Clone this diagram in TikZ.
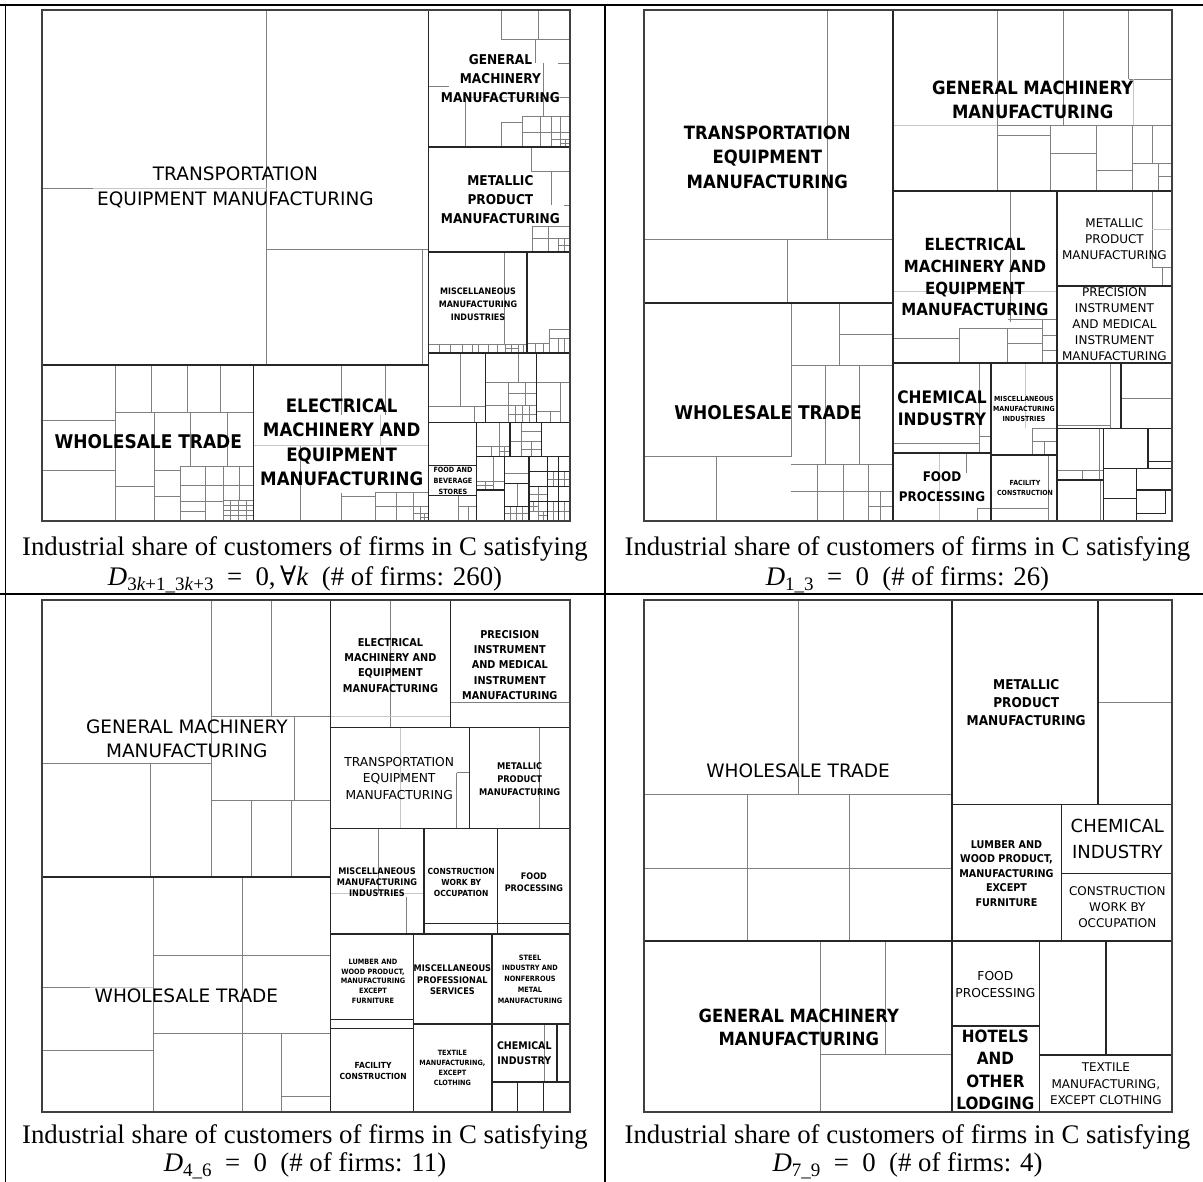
\documentclass[tikz,border=0pt]{standalone}
\usepackage{fontspec}
\setmainfont{Liberation Serif}
\newfontfamily\lblfont{DejaVu Sans}[BoldFeatures={FakeStretch=0.9}]
\newfontfamily\forallfont{DejaVu Serif}
\newcommand{\lfz}[2]{\fontsize{#1}{#2}\selectfont}
\newcommand{\capsub}[1]{\raisebox{-5pt}{\lfz{19}{20}#1}}
\tikzset{
  blk/.style={line width=1.6pt, draw=black!85},
  mid/.style={line width=1.2pt, draw=black!85},
  sub/.style={line width=0.8pt, draw=black!50},
  faint/.style={line width=0.8pt, draw=black!22},
  frame/.style={line width=2pt, draw=black!75},
  rule/.style={line width=1.3pt, draw=black},
  stub/.style={line width=2.6pt, draw=black},
  lb/.style 2 args={align=center, inner sep=0pt, font=\lblfont\bfseries\lfz{#1}{#2}},
  lm/.style 2 args={align=center, inner sep=0pt, font=\lblfont\lfz{#1}{#2}},
  captxt/.style={inner sep=0pt, anchor=base, font=\lfz{26.8}{30}},
}
% small cell split in four
\newcommand{\qbox}[4]{%
  \draw[sub] (#1,#2) rectangle (#3,#4)
    ({(#1+#3)/2},#2) -- ({(#1+#3)/2},#4)
    (#1,{(#2+#4)/2}) -- (#3,{(#2+#4)/2});}

\begin{document}
\begin{tikzpicture}[x=1pt,y=-1pt]
  \useasboundingbox (0,0) rectangle (1203,1182);
  \fill[white] (0,0) rectangle (1203,1182);

  % table rules
  \draw[rule] (0,5) -- (1203,5);
  \draw[rule] (0,594) -- (1203,594);
  \draw[rule] (5.5,5) -- (5.5,1182);
  \draw[rule] (605,5) -- (605,1182);
  \draw[stub] (0,5) -- (22,5) (589,5) -- (622,5) (1185,5) -- (1203,5);
  \draw[stub] (0,594) -- (22,594) (589,594) -- (622,594) (1185,594) -- (1203,594);

  %%%%%%%%%%%%%%%% panel 1
  % transportation
  \draw[sub] (266.7,10) -- (266.7,365) (266.7,249) -- (428.6,249) (422,249) -- (422,365) (42,188) -- (93,188);
  \draw[faint] (93,188) -- (266.7,188);
  % general machinery
  \draw[sub] (501.7,10) -- (501.7,39) -- (570,39) (538,10) -- (538,39) (535,39) -- (535,63) (558,63) -- (570,63);
  \draw[sub] (543,63) -- (543,116) (428.6,86) -- (449,86) (465,97) -- (465,147) (560,97) -- (570,97);
  \draw[faint] (465,97) -- (560,97);
  \draw[sub] (501,122) -- (501,147) (501,122) -- (522,122) (522,116) -- (522,147) (522,116) -- (570,116);
  \draw[sub] (540,116) -- (540,147) (551,116) -- (551,132) (560.7,116) -- (560.7,132) (522,132) -- (570,132);
  \qbox{551}{132}{570}{147}
  \qbox{560.5}{139.5}{570}{147}
  % metallic
  \draw[sub] (531,147) -- (531,171.7) -- (570,171.7) (551,171.7) -- (551,205) (564,205) -- (570,205);
  \draw[sub] (532,226.7) -- (570,226.7) (532,226.7) -- (532,252) (548.3,226.7) -- (548.3,252) (532,238) -- (570,238);
  \qbox{558.3}{238}{570}{252}
  % miscellaneous
  \draw[sub] (504,252) -- (504,344) (428.6,344) -- (527,344);
  \draw[sub] (439,344) -- (439,352.7) (450,344) -- (450,352.7) (462,344) -- (462,352.7) (472,344) -- (472,352.7)
    (478,344) -- (478,352.7) (488,344) -- (488,352.7) (497,344) -- (497,352.7) (523,344) -- (523,352.7);
  \qbox{505}{344}{518}{352.7}
  \draw[sub] (527,343) -- (549,343) (535.8,343) -- (535.8,352.7) (543.5,343) -- (543.5,352.7);
  \draw[sub] (549,329) -- (549,352.7) (549,329) -- (570,329) (549,338) -- (570,338)
    (558.7,338) -- (558.7,352.7) (564.5,338) -- (564.5,352.7);
  % wholesale
  \draw[sub] (115,365) -- (115,520.5) (42,420) -- (115,420) (42,470.7) -- (115,470.7);
  \draw[sub] (151.7,365) -- (151.7,412.3) (187,365) -- (187,412.3) (220,365) -- (220,412.3) (115,412.3) -- (253.5,412.3);
  \draw[sub] (154,412.3) -- (154,520.5) (115,486) -- (154,486) (190.7,412.3) -- (190.7,466.7) (227.3,412.3) -- (227.3,466.7);
  \draw[sub] (154,470) -- (180,470) (154,496) -- (180,496) (180,466.7) -- (180,520.5) (180,466.7) -- (253.5,466.7);
  \draw[sub] (205.7,466.7) -- (205.7,520.5) (223.3,466.7) -- (223.3,520.5) (239,466.7) -- (239,500)
    (180,485) -- (253.5,485) (180,501.7) -- (223.3,501.7) (180,511.7) -- (205.7,511.7);
  \qbox{223.3}{500}{238.4}{510.3}
  \qbox{238.4}{500}{253.5}{510.3}
  \qbox{223.3}{510.3}{238.4}{520.5}
  \qbox{238.4}{510.3}{253.5}{520.5}
  % electrical
  \draw[sub] (341,365) -- (341,415) (385,365) -- (385,415);
  \draw[faint] (253.5,445) -- (428.6,445) (380,415) -- (380,445);
  \draw[sub] (300,446) -- (300,520.5) (341,493) -- (341,520.5) (341,496) -- (375,496) (375,492.7) -- (375,520.5)
    (375,492.7) -- (428.6,492.7) (396.7,492.7) -- (396.7,520.5) (413,492.7) -- (413,520.5) (375,506.7) -- (413,506.7);
  \qbox{413}{506.7}{428.6}{520.5}
  \qbox{420.8}{513.6}{428.6}{520.5}
  % small industries, lower right
  \draw[sub] (460.7,353.3) -- (460.7,406.7) (428.6,406.7) -- (485.7,406.7) (474,406.7) -- (474,422.3);
  \draw[sub] (518,353.3) -- (518,382.7) (485.7,382.7) -- (536.7,382.7) (508,382.7) -- (508,422.3)
    (485.7,405.7) -- (508,405.7) (525.7,382.7) -- (525.7,405.7) (508,393) -- (536.7,393);
  \qbox{508}{405.7}{522.3}{422.3}
  \qbox{522.3}{405.7}{536.7}{422.3}
  \draw[sub] (536.7,382.7) -- (570,382.7) (560,382.7) -- (560,422.3) (536.7,411.7) -- (560,411.7) (550,411.7) -- (550,422.3);
  \draw[sub] (499,422.3) -- (499,446) (476.7,446) -- (510,446) (491.7,446) -- (491.7,456.7);
  \qbox{499}{446}{510}{456.7}
  \draw[sub] (521.7,422.3) -- (521.7,456.7) (510,441.7) -- (541.7,441.7) (521.7,431.7) -- (541.7,431.7);
  \qbox{521.7}{441.7}{541.7}{456.7}
  \draw[sub] (493.3,456.7) -- (493.3,481.7) (476.7,481.7) -- (504.3,481.7) (504.3,473.3) -- (529,473.3) (517.7,483.7) -- (517.7,506.7);
  \qbox{476.7}{481.7}{493.3}{490}
  \qbox{504.3}{506.7}{516.6}{520.5}
  \qbox{516.6}{506.7}{529}{520.5}
  \draw[sub] (458,495.7) -- (458,520.5) (458,506.7) -- (476.7,506.7) (468,506.7) -- (468,520.5);
  \qbox{529}{486.7}{547.7}{501.7}
  \qbox{547.7}{501.7}{558.3}{520.5}
  \qbox{558.3}{501.7}{570}{520.5}
  \qbox{558.3}{471.7}{570}{486.7}
  \qbox{529}{501.7}{538.3}{511}
  \qbox{538.3}{511}{547.7}{520.5}
  \qbox{547.7}{471.7}{558.3}{486.7}
  % block borders
  \draw[blk] (428.6,10) -- (428.6,520.5) (428.6,147) -- (570,147) (428.6,252) -- (570,252) (527,252) -- (527,353.3) (428.6,353.3) -- (570,353.3);
  \draw[blk] (42,365) -- (428.6,365) (253.5,365) -- (253.5,520.5);
  \draw[mid] (485.7,353.3) -- (485.7,422.3) (536.7,353.3) -- (536.7,422.3) (428.6,422.3) -- (570,422.3);
  \draw[mid] (476.7,422.3) -- (476.7,520.5) (428.6,465.5) -- (476.7,465.5) (428.6,495.7) -- (476.7,495.7);
  \draw[mid] (476.7,456.7) -- (570,456.7) (510,422.3) -- (510,456.7) (541.7,422.3) -- (541.7,456.7);
  \draw[mid] (504.3,456.7) -- (504.3,520.5) (476.7,490) -- (504.3,490) (529,456.7) -- (529,520.5) (504.3,483.7) -- (529,483.7) (504.3,506.7) -- (529,506.7);
  \draw[mid] (547.7,456.7) -- (547.7,520.5) (558.3,456.7) -- (558.3,520.5) (529,471.7) -- (570,471.7) (529,486.7) -- (570,486.7) (529,501.7) -- (570,501.7);
  \draw[frame] (42,10) rectangle (570,520.5);
  % labels
  \node[lm={18.5}{25}] (p1trans) at (235.5,187.5) {TRANSPORTATION\\EQUIPMENT MANUFACTURING};
  \node[lb={13.5}{19}] (p1gen) at (500.4,78.5) {GENERAL\\MACHINERY\\MANUFACTURING};
  \node[lb={13.5}{19}] (p1met) at (500.4,200) {METALLIC\\PRODUCT\\MANUFACTURING};
  \node[lb={8.9}{13}] (p1misc) at (478,304) {MISCELLANEOUS\\MANUFACTURING\\INDUSTRIES};
  \node[lb={18.9}{20}] (p1whole) at (148.3,441.7) {WHOLESALE TRADE};
  \node[lb={18.5}{24.5}] (p1elec) at (341.7,442.4) {ELECTRICAL\\MACHINERY AND\\EQUIPMENT\\MANUFACTURING};
  \node[lb={7.2}{11}] (p1food) at (453,481) {FOOD AND\\BEVERAGE\\STORES};
  \node[captxt] (c1a) at (305,555) {Industrial share of customers of firms in C satisfying};
  \node[captxt] (c1b) at (305,585) {\textit{D}\capsub{3\textit{k}+1\_3\textit{k}+3}\enspace=\enspace0,\,{\forallfont ∀}\textit{k}\ \ (\# of firms: 260)};

  %%%%%%%%%%%%%%%% panel 2
  % transportation
  \draw[sub] (827.7,10) -- (827.7,239.3) (644,239.3) -- (893,239.3) (787.7,239.3) -- (787.7,303.3);
  % general machinery
  \draw[sub] (997,10) -- (997,191) (1063.5,10) -- (1063.5,125) (1128.8,10) -- (1128.8,79.3) (1128.8,79.3) -- (1172,79.3);
  \draw[faint] (1133.8,79.3) -- (1133.8,125) (893,125) -- (997,125);
  \draw[sub] (997,125) -- (1172,125) (997,135) -- (1050.8,135) (1050.8,125) -- (1050.8,191) (1050.8,153.3) -- (1096,153.3)
    (1096,125) -- (1096,191) (1132.7,125) -- (1132.7,191) (1096,170) -- (1132.7,170) (1152,125) -- (1152,163.3)
    (1132.7,163.3) -- (1172,163.3) (1158.5,163.3) -- (1158.5,191) (1158.5,176) -- (1172,176);
  % electrical
  \draw[sub] (1010.8,191) -- (1010.8,321.7) (1007.7,319.3) -- (1057,319.3);
  \draw[faint] (893,291.7) -- (1057,291.7);
  \draw[sub] (959.6,328.3) -- (1042,328.3) (959.6,328.3) -- (959.6,363.3) (893,338.3) -- (959.6,338.3) (1042,319.3) -- (1042,363.3)
    (1042,335) -- (1057,335) (1042,350) -- (1057,350) (1007.7,328.3) -- (1007.7,363.3) (1007.7,343) -- (1042,343);
  % metallic
  \draw[sub] (1152,191.7) -- (1152,267) (1152,267) -- (1172,267) (1162,267) -- (1162,286);
  \draw[faint] (1152,229) -- (1172,229);
  % wholesale
  \draw[sub] (791,303.3) -- (791,456.7) (644,456.7) -- (791,456.7) (716.8,456.7) -- (716.8,520.7) (839,303.3) -- (839,365)
    (839,334.3) -- (893,334.3) (791,365) -- (893,365) (825,365) -- (825,464) (859,365) -- (859,464) (791,464) -- (893,464)
    (817.5,464) -- (817.5,520.7) (843.8,464) -- (843.8,520.7) (868.7,464) -- (868.7,520.7) (791,491.7) -- (893,491.7)
    (880.8,491.7) -- (880.8,520.7) (868.7,506.2) -- (893,506.2);
  % chemical, miscellaneous, food, facility
  \draw[sub] (979,363.3) -- (979,452.7) (893,443) -- (979,443) (979,436.7) -- (991,436.7);
  \draw[faint] (1025,363.3) -- (1025,428) (939.7,452.7) -- (939.7,520.7);
  \draw[sub] (1032,428) -- (1032,455) (1032,428) -- (1057,428) (1032,441.7) -- (1057,441.7) (1044.4,441.7) -- (1044.4,455);
  \draw[sub] (966,452.7) -- (966,473) (977,508) -- (977,520.7) (977,508) -- (991,508);
  \draw[sub] (1048,455) -- (1048,520.7) (991,508) -- (1048,508);
  % small cells
  \draw[sub] (1110,363.3) -- (1110,428.3) (1057,425) -- (1110,425) (1121,398) -- (1172,398) (1057,470) -- (1103.5,470)
    (1099,428.3) -- (1099,480) (1082,470) -- (1082,480) (1100,480) -- (1100,520.7);
  % block borders
  \draw[blk] (893,10) -- (893,520.7) (644,303.3) -- (893,303.3) (893,191) -- (1172,191) (1057,191) -- (1057,520.7)
    (1057,286) -- (1172,286) (893,363.3) -- (1172,363.3);
  \draw[blk] (991,363.3) -- (991,520.7) (893,452.7) -- (991,452.7) (991,455) -- (1057,455);
  \draw[mid] (1121,363.3) -- (1121,428.3) (1057,428.3) -- (1172,428.3) (1103.5,428.3) -- (1103.5,520.7) (1057,480) -- (1103.5,480)
    (1148,428.3) -- (1148,468.3) (1148,461.7) -- (1172,461.7) (1103.5,468.3) -- (1172,468.3) (1136.6,468.3) -- (1136.6,520.7)
    (1103.5,498.3) -- (1136.6,498.3) (1136.6,490) -- (1172,490) (1165.6,490) -- (1165.6,513.3) (1136.6,513.3) -- (1165.6,513.3);
  \draw[frame] (644,10) rectangle (1172,520.7);
  % labels
  \node[lb={18.3}{24.5}] (p2trans) at (767.3,157) {TRANSPORTATION\\EQUIPMENT\\MANUFACTURING};
  \node[lb={18.3}{24}] (p2gen) at (1032.7,100.3) {GENERAL MACHINERY\\MANUFACTURING};
  \node[lb={16.7}{21.7}] (p2elec) at (975,277.3) {ELECTRICAL\\MACHINERY AND\\EQUIPMENT\\MANUFACTURING};
  \node[lm={12}{16.3}] (p2met) at (1114.4,239) {METALLIC\\PRODUCT\\MANUFACTURING};
  \node[lm={12}{16}] (p2prec) at (1114.4,324.5) {PRECISION\\INSTRUMENT\\AND MEDICAL\\INSTRUMENT\\MANUFACTURING};
  \node[lb={18.9}{20}] (p2whole) at (768,412.7) {WHOLESALE TRADE};
  \node[lb={17.2}{21.7}] (p2chem) at (942,408) {CHEMICAL\\INDUSTRY};
  \node[lb={7}{10}] (p2misc) at (1024,409.3) {MISCELLANEOUS\\MANUFACTURING\\INDUSTRIES};
  \node[lb={13.3}{20}] (p2food) at (942,486.7) {FOOD\\PROCESSING};
  \node[lb={7}{10}] (p2fac) at (1025,488.3) {FACILITY\\CONSTRUCTION};
  \node[captxt] (c2a) at (907.5,555) {Industrial share of customers of firms in C satisfying};
  \node[captxt] (c2b) at (907.5,585) {\textit{D}\capsub{1\_3}\enspace=\enspace0\ \ (\# of firms: 26)};

  %%%%%%%%%%%%%%%% panel 3
  % general machinery
  \draw[sub] (211.6,600) -- (211.6,876.7) (271.7,600) -- (271.7,716) (211.6,716) -- (330.3,716) (294,716) -- (294,800)
    (211.6,800) -- (330.3,800) (251.4,800) -- (251.4,876.7) (291.6,800) -- (291.6,876.7) (42,763.3) -- (211.6,763.3)
    (150.4,763.3) -- (150.4,876.7);
  % electrical, precision, transportation, metallic
  \draw[sub] (390.4,600) -- (390.4,727.3) (450.4,702.7) -- (570,702.7);
  \draw[faint] (330.3,716) -- (450.4,716) (400.7,727.3) -- (400.7,828.3);
  \draw[sub] (456.6,772.7) -- (456.6,828.3) (456.6,772.7) -- (469.6,772.7) (539.6,727.3) -- (539.6,828.3);
  % miscellaneous
  \draw[sub] (378,828.3) -- (378,893) (406.4,896.7) -- (406.4,934);
  \draw[faint] (330.3,893.3) -- (424,893.3);
  % wholesale
  \draw[sub] (153,876.7) -- (153,1111.7) (242.3,876.7) -- (242.3,1111.7) (153,955) -- (330.3,955) (153,1033.3) -- (330.3,1033.3)
    (281.3,1033.3) -- (281.3,1111.7) (281.3,1096) -- (330.3,1096) (42,987.3) -- (90,987.3) (42,1050.7) -- (153,1050.7);
  \draw[faint] (90,987.3) -- (153,987.3);
  % chemical
  \draw[sub] (544,1024) -- (544,1081.7);
  % block borders
  \draw[blk] (330.3,600) -- (330.3,1111.7) (42,876.7) -- (330.3,876.7) (450.4,600) -- (450.4,727.3) (330.3,727.3) -- (570,727.3)
    (469.6,727.3) -- (469.6,828.3) (330.3,828.3) -- (570,828.3);
  \draw[blk] (424,828.3) -- (424,934) (497.5,828.3) -- (497.5,934) (424,923.3) -- (570,923.3) (330.3,934) -- (570,934);
  \draw[blk] (413.3,934) -- (413.3,1111.7) (491.8,934) -- (491.8,1111.7) (330.3,1019.3) -- (413.3,1019.3) (330.3,1028.3) -- (413.3,1028.3)
    (413.3,1024) -- (570,1024) (556.8,1024) -- (556.8,1081.7) (491.8,1081.7) -- (570,1081.7) (517.4,1081.7) -- (517.4,1111.7)
    (543.4,1081.7) -- (543.4,1111.7);
  \draw[frame] (42,600) rectangle (570,1111.7);
  % labels
  \node[lm={18.5}{24}] (p3gen) at (186.8,738.7) {GENERAL MACHINERY\\MANUFACTURING};
  \node[lb={10.8}{15.3}] (p3elec) at (390.4,665.4) {ELECTRICAL\\MACHINERY AND\\EQUIPMENT\\MANUFACTURING};
  \node[lb={10.8}{15.3}] (p3prec) at (509.8,664.8) {PRECISION\\INSTRUMENT\\AND MEDICAL\\INSTRUMENT\\MANUFACTURING};
  \node[lm={12.3}{16.7}] (p3trans) at (399.2,778.3) {TRANSPORTATION\\EQUIPMENT\\MANUFACTURING};
  \node[lb={9.2}{13.3}] (p3met) at (519.7,779) {METALLIC\\PRODUCT\\MANUFACTURING};
  \node[lb={9.1}{11}] (p3misc) at (377,882) {MISCELLANEOUS\\MANUFACTURING\\INDUSTRIES};
  \node[lb={8.4}{11}] (p3cons) at (461.2,882) {CONSTRUCTION\\WORK BY\\OCCUPATION};
  \node[lb={9}{12.3}] (p3food) at (533.9,882) {FOOD\\PROCESSING};
  \node[lb={7.3}{9.8}] (p3lum) at (373,981.3) {LUMBER AND\\WOOD PRODUCT,\\MANUFACTURING\\EXCEPT\\FURNITURE};
  \node[lb={9.1}{11.5}] (p3prof) at (452.4,980) {MISCELLANEOUS\\PROFESSIONAL\\SERVICES};
  \node[lb={7.3}{10.8}] (p3steel) at (530,979) {STEEL\\INDUSTRY AND\\NONFERROUS\\METAL\\MANUFACTURING};
  \node[lm={18.5}{20}] (p3whole) at (186.4,996) {WHOLESALE TRADE};
  \node[lb={8.4}{11.7}] (p3fac) at (373.1,1070.8) {FACILITY\\CONSTRUCTION};
  \node[lb={7.2}{10}] (p3tex) at (452.4,1067.6) {TEXTILE\\MANUFACTURING,\\EXCEPT\\CLOTHING};
  \node[lb={10.5}{14.7}] (p3chem) at (524.3,1053.3) {CHEMICAL\\INDUSTRY};
  \node[captxt] (c3a) at (305,1143) {Industrial share of customers of firms in C satisfying};
  \node[captxt] (c3b) at (305,1171) {\textit{D}\capsub{4\_6}\enspace=\enspace0\ \ (\# of firms: 11)};

  %%%%%%%%%%%%%%%% panel 4
  \draw[sub] (798,600) -- (798,794.3) (644.2,794.3) -- (951.9,794.3) (747,794.3) -- (747,941) (849,794.3) -- (849,941)
    (644.2,868.3) -- (951.9,868.3) (820.4,941) -- (820.4,1111.7) (885.8,941) -- (885.8,1054.3) (820.4,1054.3) -- (951.9,1054.3)
    (1098,702.3) -- (1172,702.3);
  \draw[blk] (951.9,600) -- (951.9,1111.7) (1098,600) -- (1098,804.3) (951.9,804.3) -- (1172,804.3) (1061.5,804.3) -- (1061.5,941)
    (1061.5,873.3) -- (1172,873.3) (644.2,941) -- (1172,941) (1039.6,941) -- (1039.6,1111.7) (951.9,1026) -- (1039.6,1026)
    (1105.8,941) -- (1105.8,1055) (1039.6,1055) -- (1172,1055);
  \draw[frame] (644.2,600) rectangle (1172,1111.7);
  % labels
  \node[lm={18.5}{20}] (p4whole) at (798,771) {WHOLESALE TRADE};
  \node[lb={13.5}{18.2}] (p4met) at (1026.2,702.3) {METALLIC\\PRODUCT\\MANUFACTURING};
  \node[lm={18}{25.7}] (p4chem) at (1117.3,838.8) {CHEMICAL\\INDUSTRY};
  \node[lb={10.7}{14.6}] (p4lum) at (1006.5,873.5) {LUMBER AND\\WOOD PRODUCT,\\MANUFACTURING\\EXCEPT\\FURNITURE};
  \node[lm={12}{16.3}] (p4cons) at (1117.3,907) {CONSTRUCTION\\WORK BY\\OCCUPATION};
  \node[lb={18.2}{23.3}] (p4gen) at (798.8,1027.3) {GENERAL MACHINERY\\MANUFACTURING};
  \node[lm={12.3}{17.3}] (p4food) at (995.4,984.7) {FOOD\\PROCESSING};
  \node[lb={16.9}{22.5}] (p4hotel) at (995.4,1069.9) {HOTELS\\AND\\OTHER\\LODGING};
  \node[lm={12}{16.7}] (p4tex) at (1105.8,1084) {TEXTILE\\MANUFACTURING,\\EXCEPT CLOTHING};
  \node[captxt] (c4a) at (907.5,1143) {Industrial share of customers of firms in C satisfying};
  \node[captxt] (c4b) at (907.5,1171) {\textit{D}\capsub{7\_9}\enspace=\enspace0\ \ (\# of firms: 4)};
\end{tikzpicture}
\end{document}
